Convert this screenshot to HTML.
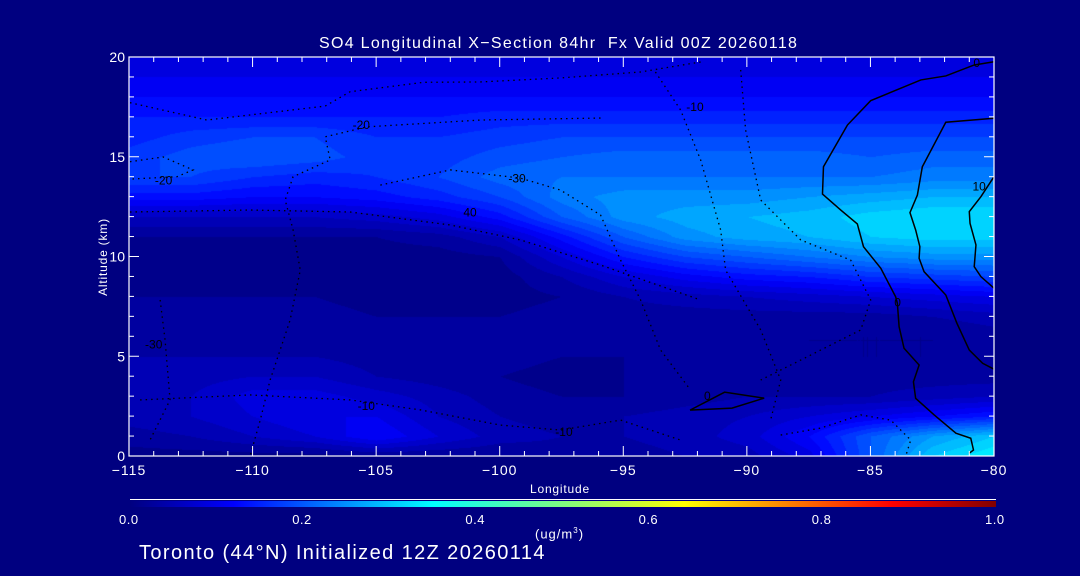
<!DOCTYPE html>
<html><head><meta charset="utf-8">
<style>
html,body{margin:0;padding:0;background:#000080;width:1080px;height:576px;overflow:hidden}
body{position:relative;font-family:"Liberation Sans",sans-serif;color:#fff}
.t{position:absolute;white-space:nowrap;font-size:13px;color:#fff}
canvas{position:absolute;left:129px;top:57px}
svg{position:absolute;left:0;top:0}
</style></head><body>
<div class="t" style="left:319px;top:35px;font-size:16px;letter-spacing:1.3px">SO4 Longitudinal X−Section 84hr &nbsp;Fx Valid 00Z 20260118</div>
<canvas id="field" width="865" height="399"></canvas>
<svg id="ov" width="1080" height="576"></svg>
<div class="t" style="left:64px;top:250px;transform:rotate(-90deg);transform-origin:center;font-size:12px;letter-spacing:0.8px">Altitude (km)</div>
<div class="t" style="left:530px;top:482px;font-size:12px;letter-spacing:0.8px">Longitude</div>
<div style="position:absolute;left:130px;top:501px;width:866px;height:6px;background:linear-gradient(to right,#000080 0%,#0000ff 12%,#00ffff 35%,#80ff80 50%,#ffff00 64%,#ff0000 88%,#800000 100%)"></div>
<div style="position:absolute;left:130px;top:499px;width:866px;height:1px;background:#fff"></div>
<div id="cbl"></div>
<div class="t" style="left:535px;top:526px;font-size:13px;letter-spacing:1px">(ug/m<sup style="font-size:8px">3</sup>)</div>
<div class="t" style="left:139px;top:542px;font-size:20px;letter-spacing:1.4px">Toronto (44°N) Initialized 12Z 20260114</div>
<script>
const lons=[-115,-112.5,-110,-107.5,-105,-102.5,-100,-97.5,-95,-92.5,-90,-87.5,-85,-82.5,-80];
const alts=[0,1,2,3,4,5,6,7,8,9,10,11,12,13,14,15,16,17,18,19,20];
const conc=[
[.01,.01,.01,.01,.02,.02,.02,.03,.03,.04,.05,.09,.2,.3,.34],
[.03,.04,.06,.08,.12,.08,.05,.04,.04,.05,.07,.12,.2,.26,.3],
[.05,.06,.08,.1,.1,.06,.04,.03,.04,.05,.06,.08,.1,.12,.14],
[.04,.06,.09,.09,.07,.05,.03,.02,.02,.03,.04,.04,.04,.05,.06],
[.04,.05,.06,.06,.04,.03,.02,.01,.02,.02,.03,.03,.03,.03,.03],
[.04,.04,.04,.04,.03,.03,.03,.02,.02,.03,.03,.02,.02,.02,.02],
[.03,.03,.03,.03,.03,.03,.03,.03,.03,.03,.02,.02,.02,.02,.03],
[.03,.03,.03,.03,.02,.02,.02,.03,.03,.03,.03,.03,.03,.04,.05],
[.02,.02,.02,.02,.01,.01,.01,.02,.04,.05,.06,.07,.08,.09,.1],
[.01,.01,.01,.01,.01,.01,.01,.04,.08,.11,.13,.14,.16,.17,.18],
[.01,.01,.01,.01,.01,.01,.02,.08,.14,.18,.2,.22,.24,.25,.25],
[.02,.02,.02,.02,.02,.03,.06,.13,.2,.25,.27,.28,.3,.31,.31],
[.06,.06,.06,.06,.07,.09,.13,.2,.25,.27,.28,.29,.31,.32,.32],
[.13,.13,.12,.12,.13,.15,.18,.23,.25,.25,.25,.26,.27,.28,.28],
[.18,.18,.16,.15,.16,.18,.21,.22,.22,.22,.22,.22,.22,.23,.23],
[.17,.19,.2,.19,.17,.17,.19,.2,.21,.21,.21,.21,.2,.21,.21],
[.15,.17,.18,.18,.16,.16,.17,.18,.18,.18,.18,.18,.18,.18,.18],
[.14,.14,.14,.14,.14,.14,.15,.15,.15,.15,.15,.15,.15,.15,.15],
[.12,.12,.12,.12,.12,.12,.12,.12,.12,.12,.12,.12,.12,.12,.12],
[.1,.1,.1,.1,.1,.1,.1,.1,.1,.1,.1,.1,.1,.1,.1],
[.09,.09,.09,.09,.09,.09,.09,.09,.09,.09,.09,.09,.09,.09,.09]];
const xTicks=[-115,-110,-105,-100,-95,-90,-85,-80];
const yTicks=[0,5,10,15,20];
const cbTicks=["0.0","0.2","0.4","0.6","0.8","1.0"];
const solidContours=[
[[-80,19.76],[-80.8,19.6],[-81.95,19.05],[-82.96,18.85],[-84.99,17.81],[-85.93,16.59],[-86.9,14.5],[-86.94,13.13],[-86.2,12.33],[-85.53,11.63],[-85.28,10.49],[-84.58,9.41],[-83.98,7.98],[-83.91,7.65],[-83.84,6.48],[-83.64,5.4],[-83.03,4.56],[-83.26,3.72],[-83.17,2.89],[-82.42,2.06],[-81.54,1.14],[-80.94,0.89],[-80.83,0.3],[-81.0,0.14]],
[[-80,16.93],[-81.95,16.73],[-82.9,14.5],[-83.1,13.08],[-83.4,12.2],[-83.17,11.33],[-83.0,10.49],[-83.03,9.91],[-82.83,9.24],[-81.95,8.07],[-81.5,6.65],[-81.0,5.31],[-80.46,4.65],[-80,4.35]],
[[-80,14.0],[-80.53,13.0],[-81.0,12.25],[-80.97,11.66],[-80.73,10.58],[-80.8,9.49],[-80.53,8.99],[-80,8.41]],
[[-92.3,2.3],[-90.9,3.2],[-89.3,2.9],[-90.6,2.4],[-92.3,2.3]]];
const dottedContours=[
[[-114.96,17.71],[-111.85,16.84],[-107.06,17.54],[-106.05,18.26],[-103.09,18.73],[-100.78,18.75],[-97.54,18.95],[-94.3,19.25],[-91.87,19.75]],
[[-114.96,14.75],[-113.62,14.99],[-112.41,14.34],[-113.06,14.0],[-114.96,13.88]],
[[-95.92,16.94],[-100.78,16.84],[-105.36,16.5],[-107.06,16.0],[-106.86,14.84],[-108.36,14.0],[-108.68,12.83],[-108.36,11.33],[-108.07,9.32],[-108.48,6.82],[-109.29,3.81],[-109.69,1.8],[-110.1,0]],
[[-104.83,13.58],[-102.0,14.34],[-99.16,13.93],[-97.54,13.33],[-95.92,12.08],[-95.11,9.82],[-94.3,7.82],[-93.49,5.31],[-92.28,3.31]],
[[-93.7,19.25],[-92.68,17.34],[-91.87,14.84],[-91.06,11.33],[-90.86,9.32],[-89.44,6.32],[-88.63,3.81],[-89.04,1.8]],
[[-90.25,19.35],[-90.05,16.34],[-89.44,12.83],[-87.82,10.83],[-85.8,9.82],[-84.99,7.82],[-85.39,6.32],[-87.82,4.81],[-89.44,3.81]],
[[-114.96,12.23],[-110.1,12.33],[-106.05,12.23],[-102.0,11.58],[-99.16,10.83],[-95.92,9.57],[-91.87,7.82]],
[[-114.55,2.81],[-110.1,3.06],[-106.05,2.81],[-103.21,2.31],[-99.97,1.55],[-97.54,1.3],[-95.11,1.8],[-92.68,0.8]],
[[-113.74,7.82],[-113.54,5.81],[-113.34,2.81],[-114.15,0.8]],
[[-88.63,1.05],[-87.01,1.4],[-85.39,2.06],[-84.18,1.8],[-83.37,0.8],[-83.57,0]]];
const labelText=["-20","-20","-30","-10","0","0","10","0","-10","-10","40","-30"];
const labelLon=[-105.6,-113.6,-99.3,-92.1,-80.7,-83.9,-80.6,-91.6,-97.4,-105.4,-101.2,-114.0];
const labelAlt=[16.6,13.8,13.9,17.5,19.7,7.7,13.5,3.0,1.2,2.5,12.2,5.6];

const X0=129,X1=994,Y0=57,Y1=456;
const xs=v=>X0+(v+115)/35*(X1-X0);
const ys=v=>Y1-v/20*(Y1-Y0);
function cmap(v){
 const st=[[0,0,0,128],[.12,0,0,255],[.35,0,255,255],[.5,128,255,128],[.64,255,255,0],[.88,255,0,0],[1,128,0,0]];
 v=Math.max(0,Math.min(1,v));
 for(let i=1;i<st.length;i++){if(v<=st[i][0]){const a=st[i-1],b=st[i],t=(v-a[0])/(b[0]-a[0]);return [a[1]+t*(b[1]-a[1]),a[2]+t*(b[2]-a[2]),a[3]+t*(b[3]-a[3])];}}
 return [128,0,0];
}
const cv=document.getElementById('field'),ctx=cv.getContext('2d');
const W=cv.width,H=cv.height,img=ctx.createImageData(W,H);
for(let py=0;py<H;py++){
 const alt=(Y1-(Y0+py))/(Y1-Y0)*20;
 const fy=Math.max(0,Math.min(alts.length-1.0001,(alt-alts[0])/(alts[1]-alts[0])));
 const j=Math.floor(fy),ty=fy-j;
 for(let px=0;px<W;px++){
  const lon=-115+(px)/(X1-X0)*35;
  const fx=Math.max(0,Math.min(lons.length-1.0001,(lon-lons[0])/(lons[1]-lons[0])));
  const i=Math.floor(fx),tx=fx-i;
  let v=(conc[j][i]*(1-tx)+conc[j][i+1]*tx)*(1-ty)+(conc[j+1][i]*(1-tx)+conc[j+1][i+1]*tx)*ty;
  v=Math.floor(v/0.02)*0.02+0.01;
  const c=cmap(v),k=(py*W+px)*4;
  img.data[k]=c[0];img.data[k+1]=c[1];img.data[k+2]=c[2];img.data[k+3]=255;
 }
}
ctx.putImageData(img,0,0);
const NS='http://www.w3.org/2000/svg',sv=document.getElementById('ov');
function mk(t,a){const e=document.createElementNS(NS,t);for(const k in a)e.setAttribute(k,a[k]);sv.appendChild(e);return e;}
dottedContours.forEach(c=>{
 const e=mk('polyline',{points:c.map(p=>xs(p[0])+','+ys(p[1])).join(' '),fill:'none',stroke:'#000','stroke-width':1.3,'stroke-dasharray':'1.5 4'});
 
 
});
solidContours.forEach(c=>{
 const e=mk('polyline',{points:c.map(p=>xs(p[0])+','+ys(p[1])).join(' '),fill:'none',stroke:'#000','stroke-width':1.5});
 
 
});
labelText.forEach((t,i)=>{
 const e=mk('text',{x:xs(labelLon[i]),y:ys(labelAlt[i])+4,fill:'#000','font-size':12,'font-family':'Liberation Sans, sans-serif','text-anchor':'middle'});
 e.textContent=t;
 
 
});
const fr=mk('rect',{x:X0,y:Y0,width:X1-X0,height:Y1-Y0,fill:'none',stroke:'#fff','stroke-width':1.2});


for(let v=-115;v<=-80;v++){
 const major=xTicks.includes(v),L=major?10:5;
 const a=mk('line',{x1:xs(v),x2:xs(v),y1:Y1,y2:Y1-L,stroke:'#fff'});
 
 
 const b=mk('line',{x1:xs(v),x2:xs(v),y1:Y0,y2:Y0+L,stroke:'#fff'});
 
 
}
for(let v=0;v<=20;v++){
 const major=yTicks.includes(v),L=major?10:5;
 const a=mk('line',{x1:X0,x2:X0+L,y1:ys(v),y2:ys(v),stroke:'#fff'});
 
 
 const b=mk('line',{x1:X1,x2:X1-L,y1:ys(v),y2:ys(v),stroke:'#fff'});
 
 
}
xTicks.forEach(v=>{
 const e=mk('text',{x:xs(v),y:Y1+19,fill:'#fff','font-size':14,'font-family':'Liberation Sans, sans-serif','text-anchor':'middle','letter-spacing':1});
 e.textContent=(v<0?'\u2212':'')+Math.abs(v);
 
 
});
yTicks.forEach(v=>{
 const e=mk('text',{x:X0-4,y:ys(v)+5,fill:'#fff','font-size':14,'font-family':'Liberation Sans, sans-serif','text-anchor':'end'});
 e.textContent=v;
 
 
});
const cb=document.getElementById('cbl');
cbTicks.forEach((t,i)=>{
 const d=document.createElement('div');
 d.className='t';d.textContent=t;
 d.style.left=(130+i*173.2-11)+'px';d.style.top='512px';d.style.fontSize='13px';d.style.letterSpacing='0.5px';
 
 
 cb.appendChild(d);
});
</script>
</body></html>
